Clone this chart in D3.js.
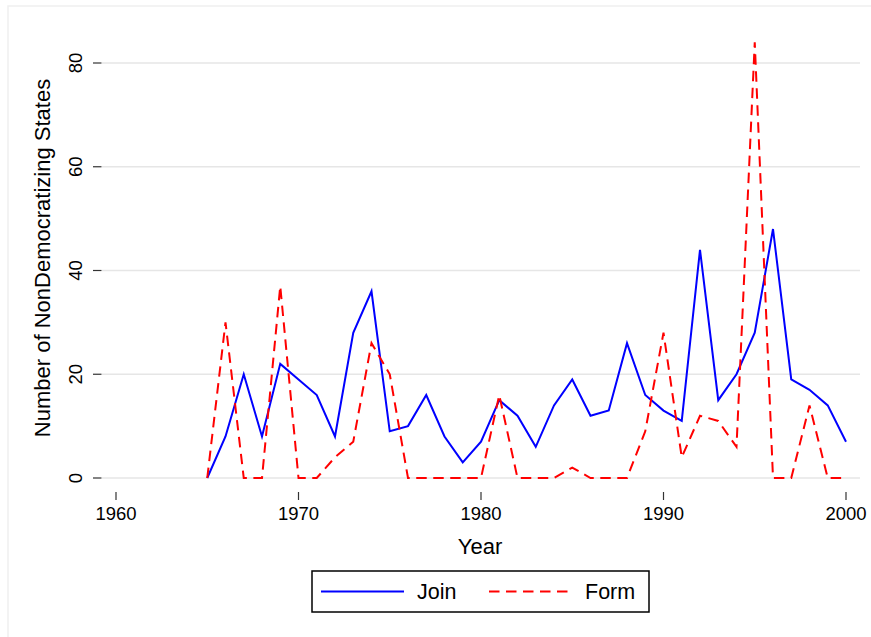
<!DOCTYPE html>
<html>
<head>
<meta charset="utf-8">
<script src="https://cdn.jsdelivr.net/npm/d3@7"></script>
<style>
  body { margin: 0; background: #fff; }
  text { font-family: "Liberation Sans", Arial, sans-serif; fill: #000; }
</style>
</head>
<body>
<div id="chart"></div>
<script>
var years = [1965, 1966, 1967, 1968, 1969, 1970, 1971, 1972, 1973, 1974,
             1975, 1976, 1977, 1978, 1979, 1980, 1981, 1982, 1983, 1984,
             1985, 1986, 1987, 1988, 1989, 1990, 1991, 1992, 1993, 1994,
             1995, 1996, 1997, 1998, 1999, 2000];
var joinValues = [0, 8, 20, 8, 22, 19, 16, 8, 28, 36,
                  9, 10, 16, 8, 3, 7, 15, 12, 6, 14,
                  19, 12, 13, 26, 16, 13, 11, 44, 15, 20,
                  28, 48, 19, 17, 14, 7];
var formValues = [0, 30, 0, 0, 37, 0, 0, 4, 7, 26,
                  20, 0, 0, 0, 0, 0, 16, 0, 0, 0,
                  2, 0, 0, 0, 9, 28, 4, 12, 11, 6,
                  84, 0, 0, 14, 0, 0];
var xTicks = [1960, 1970, 1980, 1990, 2000];
var yTicks = [0, 20, 40, 60, 80];
var seriesNames = ["Join", "Form"];

var width = 871, height = 637;

var svg = d3.select("#chart").append("svg")
    .attr("width", width)
    .attr("height", height);

// outer graph region outline
svg.append("rect")
    .attr("x", 8).attr("y", 6)
    .attr("width", 900).attr("height", 700)
    .style("fill", "#fff")
    .style("stroke", "#efefef")
    .style("stroke-width", 1.5);

var x = d3.scaleLinear().domain([1960, 2000]).range([116, 846]);
var y = d3.scaleLinear().domain([0, 80]).range([478, 63]);

// grid lines
svg.selectAll(".grid").data(yTicks).enter().append("line")
    .attr("x1", 102).attr("x2", 860)
    .attr("y1", function(d){ return y(d); })
    .attr("y2", function(d){ return y(d); })
    .style("stroke", "#e6e6e6")
    .style("stroke-width", 1.6);

// y axis ticks + labels
var yAxis = svg.append("g");
yAxis.selectAll("line").data(yTicks).enter().append("line")
    .attr("x1", 93).attr("x2", 101.5)
    .attr("y1", function(d){ return y(d); })
    .attr("y2", function(d){ return y(d); })
    .style("stroke", "#333")
    .style("stroke-width", 1.2);
yAxis.selectAll("text").data(yTicks).enter().append("text")
    .attr("transform", function(d){ return "translate(82," + y(d) + ") rotate(-90)"; })
    .attr("text-anchor", "middle")
    .style("font-size", "18.5px")
    .text(function(d){ return d; });

// x axis ticks + labels
var xAxis = svg.append("g");
xAxis.selectAll("line").data(xTicks).enter().append("line")
    .attr("x1", function(d){ return x(d); })
    .attr("x2", function(d){ return x(d); })
    .attr("y1", 492).attr("y2", 500)
    .style("stroke", "#333")
    .style("stroke-width", 1.2);
xAxis.selectAll("text").data(xTicks).enter().append("text")
    .attr("x", function(d){ return x(d); })
    .attr("y", 519.5)
    .attr("text-anchor", "middle")
    .style("font-size", "18.5px")
    .text(function(d){ return d; });

// axis titles
svg.append("text")
    .attr("x", 480).attr("y", 554)
    .attr("text-anchor", "middle")
    .style("font-size", "22px")
    .text("Year");

svg.append("text")
    .attr("transform", "translate(50,258) rotate(-90)")
    .attr("text-anchor", "middle")
    .style("font-size", "22px")
    .text("Number of NonDemocratizing States");

// series
var line = d3.line()
    .x(function(d){ return x(d[0]); })
    .y(function(d){ return y(d[1]); });

svg.append("path")
    .datum(d3.zip(years, joinValues))
    .attr("d", line)
    .style("fill", "none")
    .style("stroke", "#0000ff")
    .style("stroke-width", 2);

svg.append("path")
    .datum(d3.zip(years, formValues))
    .attr("d", line)
    .style("fill", "none")
    .style("stroke", "#ff0000")
    .style("stroke-width", 2)
    .style("stroke-dasharray", "10.5,6.5");

// legend
var legend = svg.append("g");
legend.append("rect")
    .attr("x", 312).attr("y", 571)
    .attr("width", 337).attr("height", 41)
    .style("fill", "#fff")
    .style("stroke", "#000")
    .style("stroke-width", 1.5);

var legX = [[321, 404, 417], [489, 572, 585]];
var legStyles = [["#0000ff", "none"], ["#ff0000", "10.5,6.5"]];
seriesNames.forEach(function(name, i){
    legend.append("line")
        .attr("x1", legX[i][0]).attr("x2", legX[i][1])
        .attr("y1", 591.5).attr("y2", 591.5)
        .style("stroke", legStyles[i][0])
        .style("stroke-width", 2)
        .style("stroke-dasharray", legStyles[i][1]);
    legend.append("text")
        .attr("x", legX[i][2]).attr("y", 599)
        .style("font-size", "21.5px")
        .text(name);
});
</script>
</body>
</html>
